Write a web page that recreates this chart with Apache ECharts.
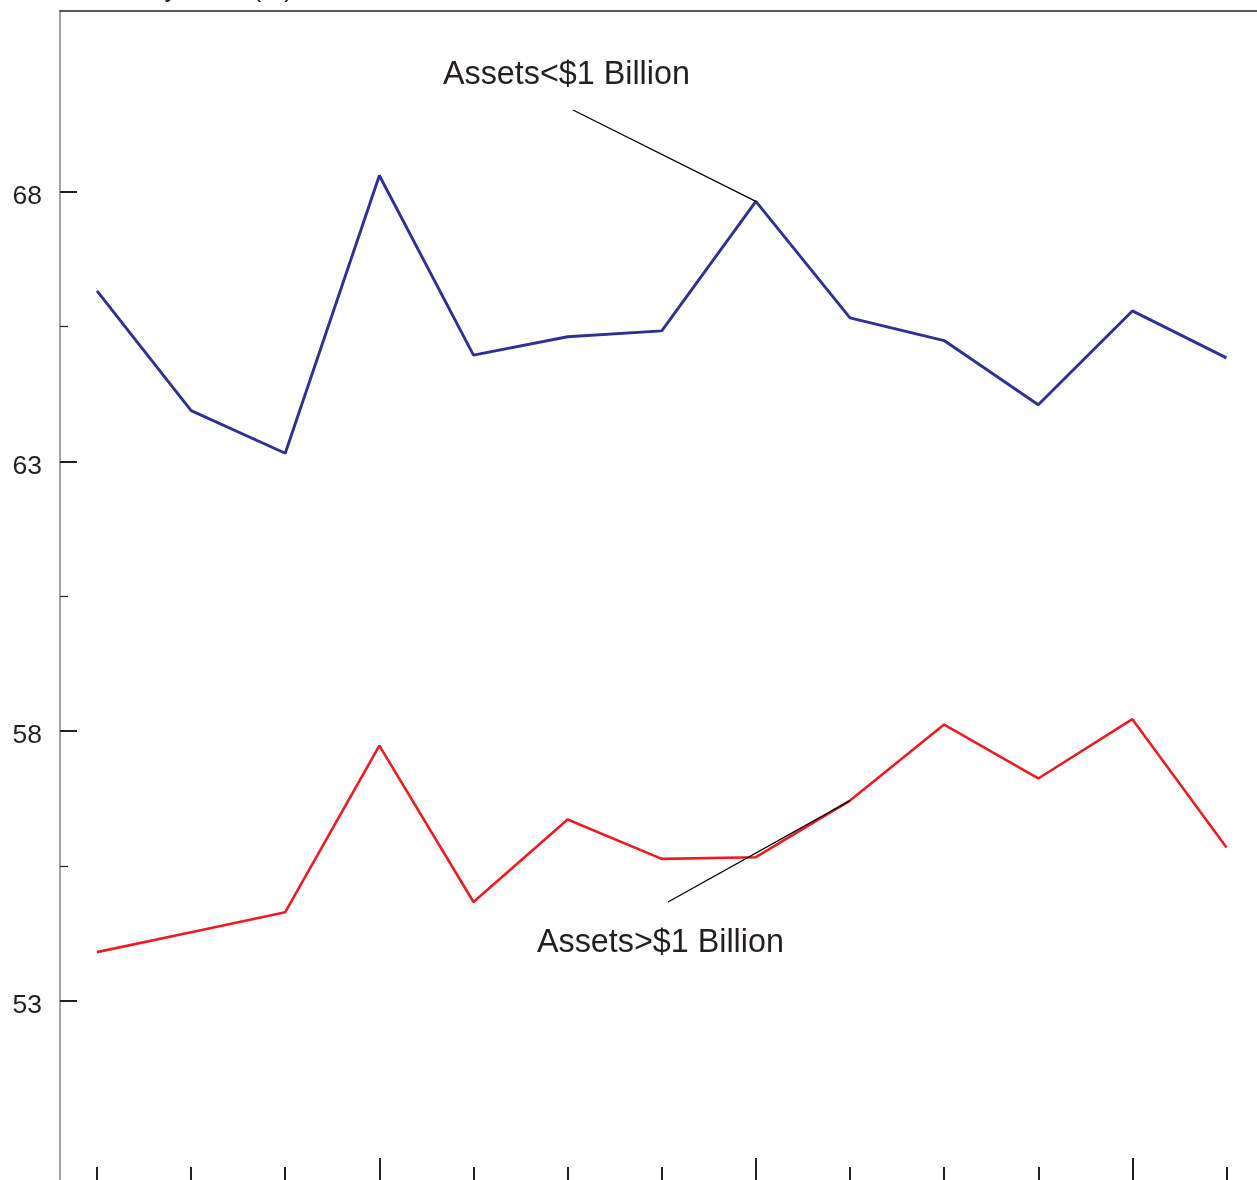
<!DOCTYPE html>
<html>
<head>
<meta charset="utf-8">
<script src="https://cdn.jsdelivr.net/npm/echarts@6/dist/echarts.min.js"></script>
<style>
html,body{margin:0;padding:0;background:#fff;}
#chart{width:1257px;height:1180px;}
</style>
</head>
<body>
<div id="chart"></div>
<script>
// ---- data ----
var periodIndex = [0,1,2,3,4,5,6,7,8,9,10,11,12];
var majorPeriodTicks = [3,7,11];
var smallAssets = [66.16,63.94,63.15,68.30,64.97,65.31,65.42,67.82,65.66,65.24,64.05,65.79,64.92];
var largeAssets = [53.90,54.27,54.64,57.73,54.83,56.36,55.63,55.66,56.71,58.12,57.12,58.22,55.84];
var yTickLabels = [53,58,63,68];
var yMinorTicks = [55.5,60.5,65.5];
var seriesNames = ['Assets<$1 Billion','Assets>$1 Billion'];
var axisTitle = 'Efficiency Ratio (%)';

var FONT = '"Liberation Sans", Arial, Helvetica, sans-serif';
var ink = '#231f20';

var chart = echarts.init(document.getElementById('chart'), null, {renderer:'canvas'});

function pairs(vals){ return vals.map(function(v,i){ return [periodIndex[i], v]; }); }

var yMin = 49.675, yMax = 71.351;
var xMin = -0.393, xMax = 12.324;

var option = {
  animation:false,
  backgroundColor:'#fff',
  grid:{left:60, right:0, top:11, bottom:0, containLabel:false},
  xAxis:[
    {type:'value', position:'bottom', min:xMin, max:xMax,
     axisLine:{show:false, onZero:false}, splitLine:{show:false}, axisLabel:{show:false},
     axisTick:{show:true, inside:true, length:13, customValues:periodIndex, lineStyle:{color:ink, width:2}}},
    {type:'value', position:'bottom', min:xMin, max:xMax,
     axisLine:{show:false, onZero:false}, splitLine:{show:false}, axisLabel:{show:false},
     axisTick:{show:true, inside:true, length:22, customValues:majorPeriodTicks, lineStyle:{color:ink, width:2}}},
    {type:'value', position:'top', min:xMin, max:xMax,
     axisLine:{show:true, onZero:false, lineStyle:{color:ink, width:1.6}}, splitLine:{show:false},
     axisLabel:{show:false}, axisTick:{show:false}}
  ],
  yAxis:[
    {type:'value', position:'left', min:yMin, max:yMax,
     axisLine:{show:true, onZero:false, lineStyle:{color:'#8c8c8c', width:1.6}},
     splitLine:{show:false},
     axisTick:{show:true, inside:true, length:17, customValues:yTickLabels, lineStyle:{color:ink, width:2}},
     axisLabel:{show:true, customValues:yTickLabels, margin:18, color:ink, fontSize:26.5, fontFamily:FONT,
       verticalAlign:'top', lineHeight:10, showMinLabel:true, showMaxLabel:true}},
    {type:'value', position:'left', offset:0, min:yMin, max:yMax,
     axisLine:{show:false, onZero:false}, splitLine:{show:false}, axisLabel:{show:false},
     axisTick:{show:true, inside:true, length:8, customValues:yMinorTicks, lineStyle:{color:ink, width:1.2}}}
  ],
  series:[
    {name:seriesNames[0], type:'line', xAxisIndex:0, yAxisIndex:0, data:pairs(smallAssets),
     showSymbol:false, symbol:'none', lineStyle:{color:'#2e3192', width:2.9}, z:3},
    {name:seriesNames[1], type:'line', xAxisIndex:0, yAxisIndex:0, data:pairs(largeAssets),
     showSymbol:false, symbol:'none', lineStyle:{color:'#ed1c24', width:2.6}, z:3}
  ]
};
chart.setOption(option);

// annotations placed relative to data points
var pBlue = chart.convertToPixel({xAxisIndex:0, yAxisIndex:0}, [periodIndex[7], smallAssets[7]]);
var pRed = chart.convertToPixel({xAxisIndex:0, yAxisIndex:0}, [periodIndex[8], largeAssets[8]]);

chart.setOption({
  graphic:[
    {type:'text', x:293, y:-10, z:10,
     style:{text:axisTitle, font:'26px '+FONT, fill:ink, textAlign:'right', textVerticalAlign:'middle'}},
    {type:'text', x:443, y:75, z:10,
     style:{text:seriesNames[0], font:'32.3px '+FONT, fill:ink, textAlign:'left', textVerticalAlign:'middle'}},
    {type:'line', z:10, shape:{x1:573, y1:110, x2:pBlue[0], y2:pBlue[1]}, style:{stroke:'#000', lineWidth:1.3}},
    {type:'text', x:537, y:943, z:10,
     style:{text:seriesNames[1], font:'32.3px '+FONT, fill:ink, textAlign:'left', textVerticalAlign:'middle'}},
    {type:'line', z:10, shape:{x1:668, y1:902, x2:pRed[0], y2:pRed[1]}, style:{stroke:'#000', lineWidth:1.3}}
  ]
});
</script>
</body>
</html>
